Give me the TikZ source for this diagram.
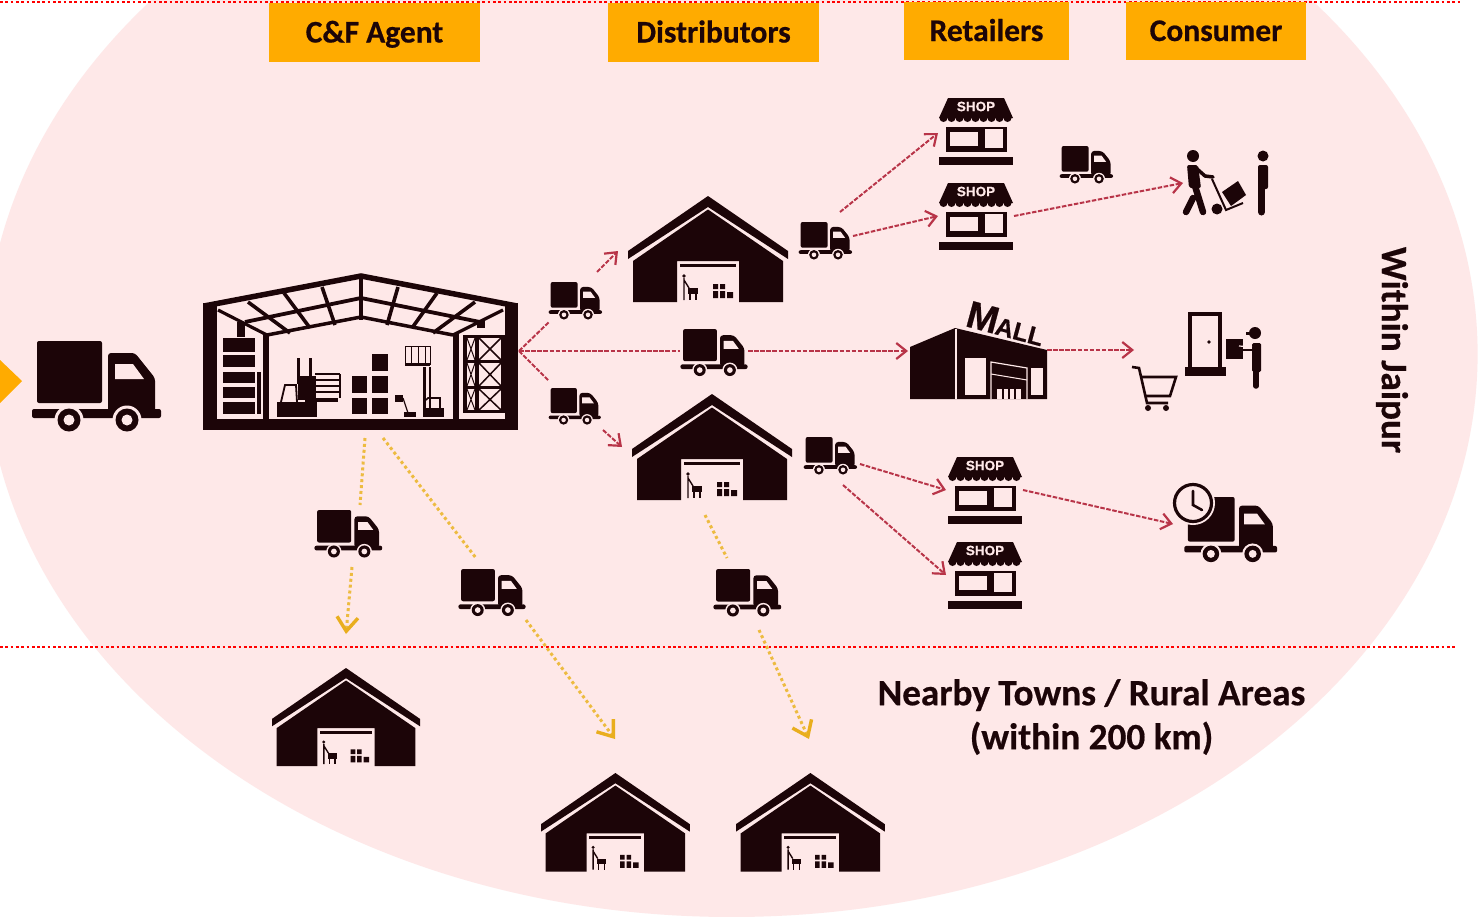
\documentclass[tikz,border=0pt]{standalone}
\usepackage{fontspec}
\setmainfont{Carlito}[BoldFeatures={FakeBold=0.5}]
\newfontfamily\arialf{Liberation Sans}[BoldFeatures={FakeBold=0.6}]
\usetikzlibrary{arrows.meta}
\definecolor{bgpink}{HTML}{FEE8E8}
\definecolor{ink}{HTML}{1C0508}
\definecolor{orangelab}{HTML}{FFAB00}
\definecolor{redline}{HTML}{B83448}
\definecolor{yelline}{HTML}{EDBB40}
\definecolor{yelhd}{HTML}{E9AE1E}
\definecolor{dotred}{HTML}{FF0000}
\tikzset{
  x=1pt,y=-1pt,
  lab/.style={fill=orangelab,minimum height=59pt,inner sep=0pt,text height=24pt,text depth=4pt,font=\fontsize{31.5}{31.5}\selectfont\bfseries,text=ink},
  headline/.style={font=\fontsize{37.2}{44}\selectfont\bfseries,text=ink,align=center,inner sep=0pt},
  redarrow/.style={draw=redline,line width=2pt,dash pattern=on 4.5pt off 1.6pt},
  redhead/.style={redarrow,-{Straight Barb[length=10pt,width=16pt,line width=2.2pt]}},
  yelarrow/.style={draw=yelline,line width=3pt,dash pattern=on 3pt off 2.9pt},
  yelhead/.style={yelarrow,-{Straight Barb[length=14pt,width=21pt,line width=3.4pt,color=yelhd]}},
  divider/.style={draw=dotred,line width=2.4pt,dash pattern=on 2.7pt off 2.6pt},
  truck/.pic={
    \fill[ink,rounded corners=2] (4,0) rectangle (69,62);
    \fill[ink,rounded corners=3] (75,12) -- (102,12) -- (122,37) -- (122,72) -- (75,72) -- cycle;
    \fill[bgpink] (82,23) -- (100,23) -- (111,38) -- (82,38) -- cycle;
    \fill[ink,rounded corners=2] (-1,68) rectangle (128,77);
    \fill[bgpink] (36,79) circle[radius=14.5] (94,79) circle[radius=14.5];
    \fill[ink] (36,79) circle[radius=11.5] (94,79) circle[radius=11.5];
    \fill[bgpink] (36,79) circle[radius=5.5] (94,79) circle[radius=5.5];
  },
  wareh/.pic={
    \fill[ink] (0,55) -- (80,0) -- (160,55) -- (160,63) -- (80,11) -- (0,63) -- cycle;
    \fill[ink] (5,65) -- (80,13.5) -- (155,65) -- (155,106) -- (111,106) -- (111,65) -- (49,65) -- (49,106) -- (5,106) -- cycle;
    \fill[ink] (52,68) rectangle (108,71);
    \fill[ink] (56,80) circle[radius=1.8];
    \draw[ink,line width=1.4pt] (56,82) -- (56,104) (56,84) -- (61,92);
    \fill[ink] (60,92) rectangle (70,98);
    \draw[ink,line width=1.3pt] (62,98) -- (62,104) (68,98) -- (68,104);
    \fill[ink] (85,88) rectangle (90,93) (92,88) rectangle (97,93)
               (85,95) rectangle (90,102) (92,95) rectangle (97,102) (99,96) rectangle (105,102);
  },
  shopicon/.pic={
    \fill[ink] (9,0) -- (65,0) -- (74,20) -- (0,20) -- cycle;
    \foreach \i in {0,...,8} {\fill[ink] (4.5+\i*8,20) circle[radius=4];}
    \node[text=bgpink,font=\arialf\bfseries\fontsize{13.5}{13.5}\selectfont,inner sep=0pt] at (37,8.5) {SHOP};
    \fill[ink] (7,29) rectangle (68,54);
    \fill[bgpink] (11,34) rectangle (39,48);
    \fill[bgpink] (46,31) rectangle (64,50);
    \fill[ink] (0,59) rectangle (74,67);
  }
}
\begin{document}
\begin{tikzpicture}
\useasboundingbox (0,0) rectangle (1480,916);
\begin{scope}
\clip (0,0) rectangle (1480,916);
\fill[white] (0,0) rectangle (1480,916);
\fill[bgpink] (731.6,354) ellipse[x radius=746,y radius=563];
\end{scope}
% dividers
\coordinate (topL) at (0,2); \coordinate (topR) at (1460,2);
\coordinate (midL) at (0,647); \coordinate (midR) at (1455,647);
\draw[divider] (topL) -- (topR);
\draw[divider] (midL) -- (midR);
% labels
\node[lab,minimum width=211pt] (cf) at (374.5,32.5) {C\&F Agent};
\node[lab,minimum width=211pt] (dist) at (713.5,32.5) {Distributors};
\node[lab,minimum width=165pt,minimum height=58pt] (ret) at (986.5,31) {Retailers};
\node[lab,minimum width=180pt,minimum height=58pt] (con) at (1216,31) {Consumer};
\node[headline,rotate=-90] (jaipur) at (1392,350) {Within Jaipur};
\node[headline] (nearby) at (1091.5,717) {Nearby Towns / Rural Areas\\(within 200 km)};
% entry triangle
\fill[orangelab] (0,360) -- (22,381) -- (0,403) -- cycle;
% trucks
\coordinate (tBig) at (33,341);
\pic at (tBig) {truck};
\coordinate (t1) at (549,282); \pic[scale=.415] at (t1) {truck};
\coordinate (t2) at (799,222); \pic[scale=.415] at (t2) {truck};
\coordinate (t3) at (681,329); \pic[scale=.52] at (t3) {truck};
\coordinate (t4) at (549,388); \pic[scale=.405] at (t4) {truck};
\coordinate (t5) at (804,437); \pic[scale=.415] at (t5) {truck};
\coordinate (t6) at (315,510); \pic[scale=.525] at (t6) {truck};
\coordinate (t7) at (459,569); \pic[scale=.52] at (t7) {truck};
\coordinate (t8) at (714,569); \pic[scale=.525] at (t8) {truck};
\coordinate (t9) at (1060,146); \pic[scale=.415] at (t9) {truck};
\coordinate (t10) at (1185,497); \pic[scale=.72] at (t10) {truck};
% clock
\coordinate (clk) at (1193,503);
\fill[bgpink] (clk) circle[radius=22];
\draw[ink,line width=3.2pt] (clk) circle[radius=18.5];
\draw[ink,line width=2.6pt,line cap=round] (1193,491) -- (1193,505) -- (1202,510);
% warehouses
\coordinate (w1) at (628,196); \pic at (w1) {wareh};
\coordinate (w2) at (632,394); \pic at (w2) {wareh};
\coordinate (w3) at (272,668); \pic[scale=.925] at (w3) {wareh};
\coordinate (w4) at (541,773); \pic[scale=.93] at (w4) {wareh};
\coordinate (w5) at (736,773); \pic[scale=.93] at (w5) {wareh};
% shops
\coordinate (s1) at (939,98); \pic at (s1) {shopicon};
\coordinate (s2) at (939,183); \pic at (s2) {shopicon};
\coordinate (s3) at (948,457); \pic at (s3) {shopicon};
\coordinate (s4) at (948,542); \pic at (s4) {shopicon};
% big warehouse
\begin{scope}
\fill[ink] (203,303) rectangle (217,430);
\fill[ink] (505,303) rectangle (518,430);
\fill[ink] (203,419) rectangle (518,430);
\draw[ink,line width=5.5pt,line join=miter] (204,306) -- (361,276) -- (517,306);
\draw[ink,line width=3.8pt] (245,322) -- (361,298) -- (480,322);
\draw[ink,line width=3.5pt] (267,335) -- (361,317) -- (453,335);
\draw[ink,line width=3.2pt] (218,310) -- (267,335);
\draw[ink,line width=3.2pt] (503,310) -- (453,335);
\draw[ink,line width=4pt] (361,275) -- (361,320);
\draw[ink,line width=3.6pt] (322,287) -- (335,325);
\draw[ink,line width=3.6pt] (284,293) -- (310,328);
\draw[ink,line width=3.6pt] (248,302) -- (290,333);
\draw[ink,line width=3.6pt] (398,287) -- (387,325);
\draw[ink,line width=3.6pt] (437,293) -- (412,328);
\draw[ink,line width=3.6pt] (475,302) -- (433,333);
\fill[ink] (263,333) rectangle (269,419);
\fill[ink] (453,333) rectangle (459,419);
\fill[ink] (237,322) rectangle (245,337);
\fill[ink] (477,320) rectangle (485,328);
\foreach \a/\b in {338/352,355/367,372/383,387/398,402/414} {\fill[ink] (223,\a) rectangle (255,\b);}
\fill[ink] (257,372) rectangle (261,414);
% forklift left
\fill[ink] (297,358) rectangle (300,384);
\fill[ink] (309,358) rectangle (312,384);
\fill[ink] (298,376) rectangle (316,400);
\foreach \a in {374,380,386,392} {\draw[ink,line width=1.4pt] (315,\a) -- (340,\a);}
\draw[ink,line width=1.2pt] (340,374) -- (340,398);
\fill[ink] (305,398) rectangle (338,402);
\draw[ink,line width=1.8pt] (281,402) -- (285,385) -- (296,385) -- (297,402);
\fill[ink] (277,402) rectangle (317,417);
% pallets
\fill[ink] (352,376) rectangle (367,393);
\fill[ink] (352,398) rectangle (367,414);
\fill[ink] (372,376) rectangle (388,393);
\fill[ink] (372,398) rectangle (388,414);
\fill[ink] (372,354) rectangle (388,371);
% forklift right
\fill[ink] (423,367) rectangle (426,410);
\fill[ink] (429,367) rectangle (431,410);
\draw[ink,line width=1pt] (405,346) rectangle (430,364);
\foreach \a in {411,418,425} {\draw[ink,line width=1pt] (\a,346) -- (\a,364);}
\fill[ink] (405,363) rectangle (430,366);
\draw[ink,line width=1.6pt] (426,400) -- (428,398) -- (440,398) -- (440,408);
\fill[ink] (423,408) rectangle (444,417);
% pallet jack
\fill[ink] (395,395) rectangle (403,402);
\draw[ink,line width=1.2pt] (403,398) -- (408,413);
\fill[ink] (404,412) rectangle (416,417);
% right rack
\fill[ink] (463,335) rectangle (467,413);
\fill[ink] (475,335) rectangle (479,413);
\fill[ink] (501,335) rectangle (505,413);
\foreach \a in {335,360,386,410} {\fill[ink] (463,\a) rectangle (505,\a+3);}
\foreach \a/\b in {338/360,363/386,389/410} {
  \draw[ink,line width=1.5pt] (479,\a) -- (501,\b) (501,\a) -- (479,\b);
  \draw[ink,line width=1pt] (467,\a) -- (475,\b) (475,\a) -- (467,\b);
}
\end{scope}
% mall
\coordinate (mall) at (1047,350);
\fill[ink] (910,347) -- (955,328) -- (1047,350) -- (1047,399) -- (910,399) -- cycle;
\draw[bgpink,line width=1.2pt] (956,329) -- (956,399);
\fill[bgpink] (965,358) rectangle (986,395);
\fill[bgpink] (1031,368) rectangle (1043,395);
\draw[bgpink,line width=1.2pt] (991,399) -- (991,362) -- (1027,368) -- (1027,399);
\draw[bgpink,line width=1pt] (991,374) -- (1027,380);
\fill[bgpink] (997,389) rectangle (1021,399);
\draw[ink,line width=1.2pt] (1003,389) -- (1003,399) (1009,389) -- (1009,399) (1015,389) -- (1015,399);
\node[rotate=-15,anchor=south west,inner sep=0pt,text=ink,font=\arialf\bfseries] (malltxt) at (964,326) {{\fontsize{38}{38}\selectfont M}\kern-1pt{\fontsize{25}{25}\selectfont ALL}};
% walker with trolley
\fill[ink] (1193,156) circle[radius=6];
\fill[ink,rounded corners=2] (1187,165) -- (1198,165) -- (1201,188) -- (1189,188) -- cycle;
\draw[ink,line width=3.5pt,line cap=round] (1196,168) -- (1205,176) -- (1213,177);
\draw[ink,line width=6.5pt,line cap=round] (1195,186) -- (1203,212);
\draw[ink,line width=6.5pt,line cap=round] (1193,198) -- (1186,212);
\draw[ink,line width=2pt] (1212,179) -- (1226,210) -- (1243,203);
\fill[ink] (1217,209) circle[radius=5.5];
\fill[ink] (1222,192) -- (1238,181) -- (1246,195) -- (1231,206) -- cycle;
\fill[ink] (1263,156) circle[radius=5.5];
\fill[ink,rounded corners=2] (1258,165) rectangle (1268,189);
\draw[ink,line width=7pt,line cap=round] (1261.5,186) -- (1261.5,212);
% door
\coordinate (door) at (1205,340);
\draw[ink,line width=3.6pt] (1190,367) -- (1190,314) -- (1220,314) -- (1220,367);
\fill[ink] (1209,342) circle[radius=1.9];
\fill[ink] (1185,367) rectangle (1226,376);
\fill[ink] (1255,333) circle[radius=6];
\fill[ink] (1246,332) rectangle (1256,335);
\fill[ink,rounded corners=1.5] (1252,343) rectangle (1261,372);
\draw[ink,line width=5.5pt,line cap=round] (1256,370) -- (1256,386);
\fill[ink] (1226,339) rectangle (1243,359);
\draw[bgpink,line width=1.2pt] (1239,346) -- (1252,347);
\draw[ink,line width=2.5pt] (1240,350) -- (1253,350);
% cart
\draw[ink,line width=2.6pt] (1132,367) -- (1139,368) -- (1147,403) -- (1168,403);
\draw[ink,line width=2.6pt] (1141,377) -- (1176,377) -- (1170,396) -- (1146,396);
\fill[ink] (1148,408) circle[radius=3] (1166,408) circle[radius=3];
% connector endpoints
\coordinate (hub) at (519,351);
\coordinate (a1) at (549,322); \coordinate (a2) at (597,272); \coordinate (a3) at (618,251);
\coordinate (b1) at (680,351); \coordinate (b2) at (748,351); \coordinate (b3) at (908,351);
\coordinate (c1) at (549,381); \coordinate (c2) at (603,430); \coordinate (c3) at (622,447);
\coordinate (d1) at (840,212); \coordinate (d2) at (938,133);
\coordinate (e1) at (853,236); \coordinate (e2) at (938,216);
\coordinate (f1) at (1014,216); \coordinate (f2) at (1183,183);
\coordinate (g2) at (1134,350);
\coordinate (h1) at (860,464); \coordinate (h2) at (946,490);
\coordinate (i1) at (843,485); \coordinate (i2) at (946,575);
\coordinate (j1) at (1023,490); \coordinate (j2) at (1173,524);
\draw[redarrow] (hub) -- (a1);
\draw[redhead] (a2) -- (a3);
\draw[redarrow] (hub) -- (b1);
\draw[redhead] (b2) -- (b3);
\draw[redarrow] (hub) -- (c1);
\draw[redhead] (c2) -- (c3);
\draw[redhead] (d1) -- (d2);
\draw[redhead] (e1) -- (e2);
\draw[redhead] (f1) -- (f2);
\draw[redhead] (mall) -- (g2);
\draw[redhead] (h1) -- (h2);
\draw[redhead] (i1) -- (i2);
\draw[redhead] (j1) -- (j2);
\coordinate (k1) at (365,438); \coordinate (k2) at (360,505); \coordinate (k3) at (352,567); \coordinate (k4) at (346,634);
\coordinate (l1) at (383,438); \coordinate (l2) at (476,558); \coordinate (l3) at (526,620); \coordinate (l4) at (615,739);
\coordinate (m1) at (705,515); \coordinate (m2) at (727,558); \coordinate (m3) at (759,630); \coordinate (m4) at (809,739);
\draw[yelarrow] (k1) -- (k2);
\draw[yelhead] (k3) -- (k4);
\draw[yelarrow] (l1) -- (l2);
\draw[yelhead] (l3) -- (l4);
\draw[yelarrow] (m1) -- (m2);
\draw[yelhead] (m3) -- (m4);
\end{tikzpicture}
\end{document}
